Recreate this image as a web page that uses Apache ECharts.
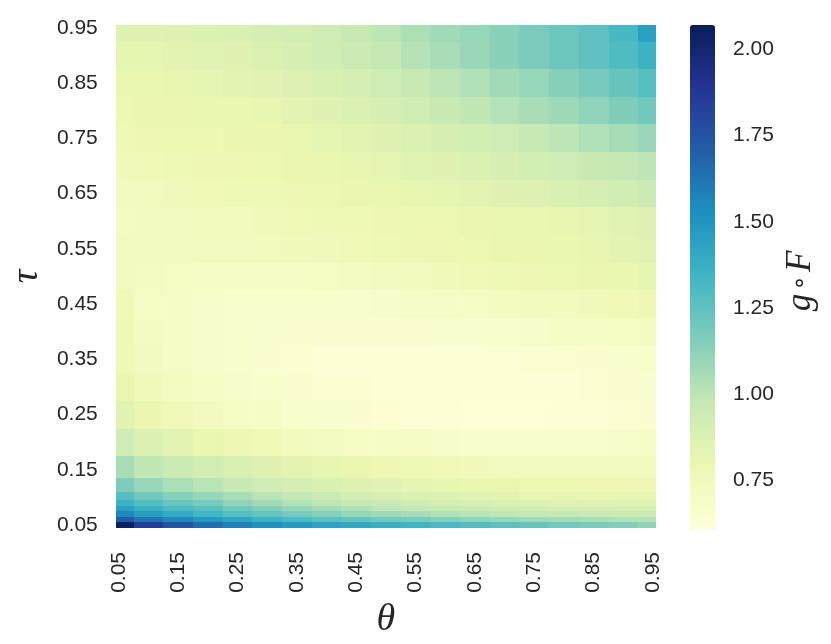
<!DOCTYPE html>
<html>
<head>
<meta charset="utf-8">
<script src="https://cdn.jsdelivr.net/npm/echarts@6/dist/echarts.min.js"></script>
<style>
  html, body { margin: 0; background: #fff; }
  #chart { width: 831px; height: 644px; }
</style>
</head>
<body>
<div id="chart"></div>
<script>
// sample positions (theta across, tau up)
const thetaValues = [0.05, 0.10, 0.15, 0.20, 0.25, 0.30, 0.35, 0.40, 0.45, 0.50,
  0.55, 0.60, 0.65, 0.70, 0.75, 0.80, 0.85, 0.90, 0.95];
const tauValues = [0.05, 0.06, 0.07, 0.08, 0.09, 0.10, 0.12, 0.15, 0.20, 0.25,
  0.30, 0.35, 0.40, 0.45, 0.50, 0.55, 0.60, 0.65, 0.70, 0.75, 0.80, 0.85, 0.90, 0.95];
const tickLabels = [0.05, 0.15, 0.25, 0.35, 0.45, 0.55, 0.65, 0.75, 0.85, 0.95];
const cbTicks = [0.75, 1.00, 1.25, 1.50, 1.75, 2.00];
const cbMin = 0.61;
const cbMax = 2.07;

// g∘F, one row per tau (bottom to top), one value per theta
const gF = [
  /* .05 */ [2.05, 1.85, 1.75, 1.65, 1.58, 1.52, 1.48, 1.44, 1.41, 1.38, 1.35, 1.32, 1.29, 1.26, 1.23, 1.20, 1.18, 1.15, 1.12],
  /* .06 */ [1.72, 1.62, 1.55, 1.48, 1.42, 1.36, 1.31, 1.27, 1.23, 1.20, 1.17, 1.14, 1.12, 1.10, 1.08, 1.06, 1.05, 1.03, 1.02],
  /* .07 */ [1.55, 1.46, 1.40, 1.34, 1.28, 1.23, 1.18, 1.14, 1.10, 1.07, 1.05, 1.03, 1.01, 0.99, 0.98, 0.97, 0.96, 0.95, 0.95],
  /* .08 */ [1.45, 1.37, 1.31, 1.26, 1.20, 1.15, 1.10, 1.06, 1.03, 1.00, 0.98, 0.96, 0.95, 0.93, 0.92, 0.91, 0.91, 0.90, 0.90],
  /* .09 */ [1.36, 1.28, 1.22, 1.17, 1.12, 1.07, 1.03, 1.00, 0.97, 0.95, 0.93, 0.91, 0.90, 0.88, 0.87, 0.86, 0.86, 0.85, 0.85],
  /* .10 */ [1.28, 1.20, 1.14, 1.10, 1.05, 1.01, 0.98, 0.95, 0.92, 0.90, 0.88, 0.87, 0.85, 0.84, 0.83, 0.83, 0.82, 0.82, 0.82],
  /* .12 */ [1.16, 1.09, 1.04, 1.01, 0.97, 0.94, 0.91, 0.89, 0.87, 0.85, 0.83, 0.82, 0.81, 0.80, 0.79, 0.79, 0.78, 0.78, 0.78],
  /* .15 */ [1.05, 0.99, 0.95, 0.92, 0.89, 0.86, 0.84, 0.82, 0.80, 0.78, 0.77, 0.76, 0.75, 0.74, 0.74, 0.73, 0.73, 0.73, 0.74],
  /* .20 */ [0.94, 0.88, 0.84, 0.81, 0.78, 0.76, 0.74, 0.72, 0.71, 0.70, 0.69, 0.68, 0.67, 0.67, 0.67, 0.67, 0.67, 0.68, 0.69],
  /* .25 */ [0.85, 0.80, 0.76, 0.73, 0.71, 0.69, 0.67, 0.66, 0.65, 0.64, 0.63, 0.63, 0.62, 0.62, 0.62, 0.63, 0.63, 0.64, 0.65],
  /* .30 */ [0.80, 0.75, 0.72, 0.70, 0.68, 0.67, 0.65, 0.64, 0.64, 0.63, 0.63, 0.63, 0.63, 0.63, 0.63, 0.63, 0.64, 0.65, 0.66],
  /* .35 */ [0.77, 0.73, 0.70, 0.68, 0.67, 0.65, 0.64, 0.63, 0.63, 0.63, 0.63, 0.63, 0.63, 0.63, 0.64, 0.64, 0.65, 0.66, 0.67],
  /* .40 */ [0.77, 0.72, 0.70, 0.68, 0.67, 0.66, 0.65, 0.65, 0.65, 0.65, 0.65, 0.66, 0.66, 0.67, 0.68, 0.69, 0.70, 0.71, 0.72],
  /* .45 */ [0.76, 0.71, 0.69, 0.68, 0.67, 0.67, 0.67, 0.67, 0.67, 0.68, 0.69, 0.70, 0.71, 0.72, 0.73, 0.74, 0.75, 0.76, 0.78],
  /* .50 */ [0.74, 0.72, 0.71, 0.70, 0.70, 0.70, 0.70, 0.71, 0.72, 0.73, 0.74, 0.75, 0.76, 0.77, 0.78, 0.79, 0.80, 0.81, 0.83],
  /* .55 */ [0.73, 0.73, 0.73, 0.73, 0.73, 0.74, 0.75, 0.75, 0.76, 0.77, 0.78, 0.78, 0.79, 0.80, 0.80, 0.81, 0.82, 0.84, 0.85],
  /* .60 */ [0.72, 0.73, 0.73, 0.74, 0.74, 0.75, 0.76, 0.77, 0.77, 0.78, 0.79, 0.79, 0.80, 0.81, 0.81, 0.82, 0.83, 0.85, 0.87],
  /* .65 */ [0.73, 0.74, 0.75, 0.76, 0.77, 0.77, 0.78, 0.79, 0.80, 0.81, 0.82, 0.83, 0.84, 0.86, 0.87, 0.89, 0.91, 0.93, 0.95],
  /* .70 */ [0.75, 0.76, 0.77, 0.78, 0.78, 0.79, 0.80, 0.81, 0.82, 0.83, 0.85, 0.86, 0.88, 0.90, 0.92, 0.94, 0.96, 0.98, 1.00],
  /* .75 */ [0.77, 0.78, 0.79, 0.79, 0.80, 0.80, 0.81, 0.83, 0.84, 0.86, 0.88, 0.90, 0.92, 0.94, 0.97, 1.00, 1.03, 1.06, 1.09],
  /* .80 */ [0.79, 0.80, 0.80, 0.81, 0.81, 0.82, 0.84, 0.86, 0.88, 0.90, 0.93, 0.96, 0.99, 1.02, 1.05, 1.08, 1.12, 1.16, 1.20],
  /* .85 */ [0.80, 0.81, 0.82, 0.83, 0.84, 0.85, 0.87, 0.89, 0.91, 0.94, 0.97, 1.00, 1.03, 1.07, 1.10, 1.14, 1.18, 1.23, 1.28],
  /* .90 */ [0.83, 0.83, 0.84, 0.85, 0.86, 0.88, 0.90, 0.93, 0.95, 0.98, 1.02, 1.05, 1.09, 1.13, 1.17, 1.21, 1.25, 1.30, 1.36],
  /* .95 */ [0.86, 0.86, 0.87, 0.88, 0.89, 0.91, 0.92, 0.94, 0.97, 1.00, 1.04, 1.07, 1.10, 1.13, 1.17, 1.21, 1.25, 1.32, 1.45]
];

// YlGnBu
const ylgnbu = ['#ffffd9', '#edf8b1', '#c7e9b4', '#7fcdbb', '#41b6c4',
  '#1d91c0', '#225ea8', '#253494', '#081d58'];

const axisMin = 0.045;
const axisMax = 0.955;
const textColor = '#262626';

const cells = [];
tauValues.forEach((tau, j) => {
  thetaValues.forEach((theta, i) => {
    cells.push([theta, tau, gF[j][i]]);
  });
});

// cell edges: halfway to the neighbouring samples
const edges = (vals, k) => [
  k === 0 ? axisMin : (vals[k - 1] + vals[k]) / 2,
  k === vals.length - 1 ? axisMax : (vals[k] + vals[k + 1]) / 2
];

const renderCell = (params, api) => {
  const i = params.dataIndex % thetaValues.length;
  const j = Math.floor(params.dataIndex / thetaValues.length);
  const [x0, x1] = edges(thetaValues, i);
  const [y0, y1] = edges(tauValues, j);
  const p0 = api.coord([x0, y1]);
  const p1 = api.coord([x1, y0]);
  const left = Math.round(p0[0]), top = Math.round(p0[1]);
  return {
    type: 'rect',
    shape: {
      x: left,
      y: top,
      width: Math.round(p1[0]) - left,
      height: Math.round(p1[1]) - top
    },
    style: { fill: api.visual('color') }
  };
};

const fmt = (v) => Number(v).toFixed(2);

const mathName = {
  fontFamily: 'Liberation Serif',
  fontStyle: 'italic',
  fontSize: 38,
  color: textColor
};

const chart = echarts.init(document.getElementById('chart'));
chart.setOption({
  animation: false,
  backgroundColor: '#fff',
  grid: [
    { left: 114, top: 25, width: 542, height: 504 },
    { left: 690, top: 25, width: 25, height: 504 }
  ],
  xAxis: [
    {
      type: 'value',
      gridIndex: 0,
      min: axisMin,
      max: axisMax,
      axisLine: { show: false },
      axisTick: { show: false },
      splitLine: { show: false },
      axisLabel: {
        customValues: tickLabels,
        formatter: fmt,
        rotate: 90,
        margin: 24,
        fontSize: 21,
        fontFamily: 'Liberation Sans',
        color: textColor
      },
      name: 'θ',
      nameLocation: 'middle',
      nameGap: 73,
      nameTextStyle: mathName
    },
    { type: 'value', gridIndex: 1, show: false, min: 0, max: 1 }
  ],
  yAxis: [
    {
      type: 'value',
      gridIndex: 0,
      min: axisMin,
      max: axisMax,
      axisLine: { show: false },
      axisTick: { show: false },
      splitLine: { show: false },
      axisLabel: {
        customValues: tickLabels,
        formatter: fmt,
        margin: 18,
        fontSize: 21,
        fontFamily: 'Liberation Sans',
        color: textColor
      },
      name: 'τ',
      nameLocation: 'middle',
      nameRotate: 90,
      nameGap: 62,
      nameTextStyle: mathName
    },
    {
      type: 'value',
      gridIndex: 1,
      position: 'right',
      min: cbMin,
      max: cbMax,
      axisLine: { show: false },
      splitLine: { show: false },
      axisTick: {
        show: true,
        customValues: cbTicks,
        length: 11,
        lineStyle: { color: textColor, width: 2 }
      },
      axisLabel: {
        customValues: cbTicks,
        formatter: fmt,
        margin: 18,
        fontSize: 21,
        fontFamily: 'Liberation Sans',
        color: textColor
      }
    }
  ],
  visualMap: {
    type: 'continuous',
    seriesIndex: 0,
    dimension: 2,
    min: cbMin,
    max: cbMax,
    calculable: false,
    hoverLink: false,
    orient: 'vertical',
    left: 690,
    top: 25,
    padding: 0,
    itemWidth: 25,
    itemHeight: 504,
    text: null,
    showLabel: false,
    inRange: { color: ylgnbu }
  },
  graphic: [
    {
      type: 'text',
      x: 801,
      y: 281,
      rotation: Math.PI / 2,
      style: {
        text: '{i|g} {o|∘} {i|F}',
        align: 'center',
        verticalAlign: 'middle',
        fill: textColor,
        rich: {
          i: {
            fontFamily: 'Liberation Serif',
            fontStyle: 'italic',
            fontSize: 35,
            fill: textColor
          },
          o: {
            fontFamily: 'DejaVu Sans',
            fontSize: 24,
            fill: textColor
          }
        }
      }
    }
  ],
  series: [
    {
      type: 'custom',
      xAxisIndex: 0,
      yAxisIndex: 0,
      renderItem: renderCell,
      encode: { x: 0, y: 1 },
      data: cells
    }
  ]
});
</script>
</body>
</html>
